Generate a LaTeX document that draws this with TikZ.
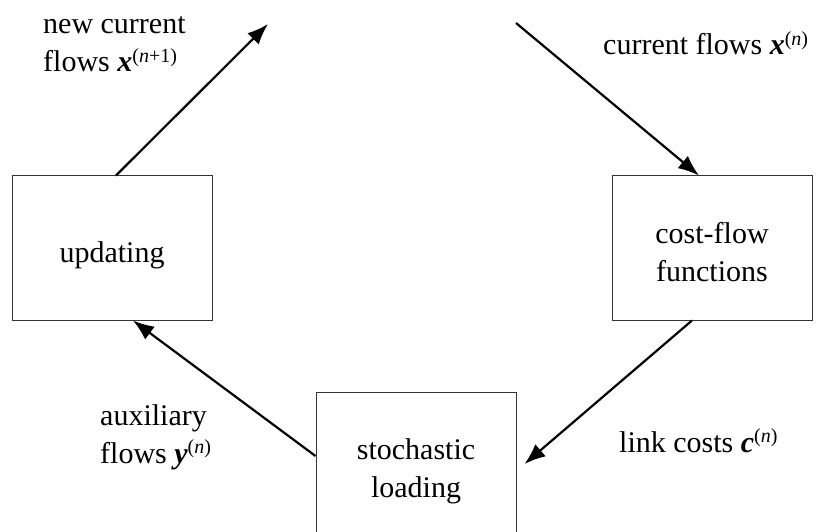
\documentclass[tikz,border=0pt]{standalone}
\usepackage{fontspec}
\setmainfont{Liberation Serif}
\usetikzlibrary{arrows.meta}
\tikzset{>={Latex[length=21pt,width=16pt]}}
\newcommand{\vb}[1]{{\bfseries\itshape #1}}
\newcommand{\iter}[1]{\raisebox{9.5pt}{\fontsize{20pt}{20pt}\selectfont(#1)}}

\begin{document}
\begin{tikzpicture}[x=1pt, y=-1pt,
  font=\fontsize{30pt}{38pt}\selectfont,
  stepbox/.style={draw=black!80, line width=1pt, minimum width=200pt, minimum height=144pt, align=center, inner sep=0pt, text depth=7pt, text height=36pt},
  twoline/.style={text height=74pt},
  flow/.style={->, line width=2.2pt},
  lbl/.style={anchor=base west, align=left, inner sep=0pt}]
\useasboundingbox (0, 0) rectangle (823, 532);

\node[stepbox] (upd) at (112, 248) {updating};
\node[stepbox, twoline] (cost) at (712, 248) {cost-flow\\functions};
\node[stepbox, twoline] (load) at (416, 464) {stochastic\\loading};

\coordinate (newx) at (268, 24);
\coordinate (curx) at (516, 23);

\draw[flow] ([xshift = 4pt]upd.north) -- (newx);
\draw[flow] (curx) -- ([xshift = -13pt]cost.north);
\draw[flow] ([xshift = -20pt]cost.south) -- ([xshift = 8pt]load.east);
\draw[flow] ([yshift = 8pt]load.west) -- ([xshift = 21pt]upd.south);

\node[lbl] (lnew) at (43, 72) {new current\\flows \vb{x}\iter{\textit{n}+1}};
\node[lbl] (lcur) at (603, 55) {current flows \vb{x}\iter{\textit{n}}};
\node[lbl] (laux) at (100, 463) {auxiliary\\flows \vb{y}\iter{\textit{n}}};
\node[lbl] (llink) at (619, 452) {link costs \vb{c}\iter{\textit{n}}};
\end{tikzpicture}
\end{document}
